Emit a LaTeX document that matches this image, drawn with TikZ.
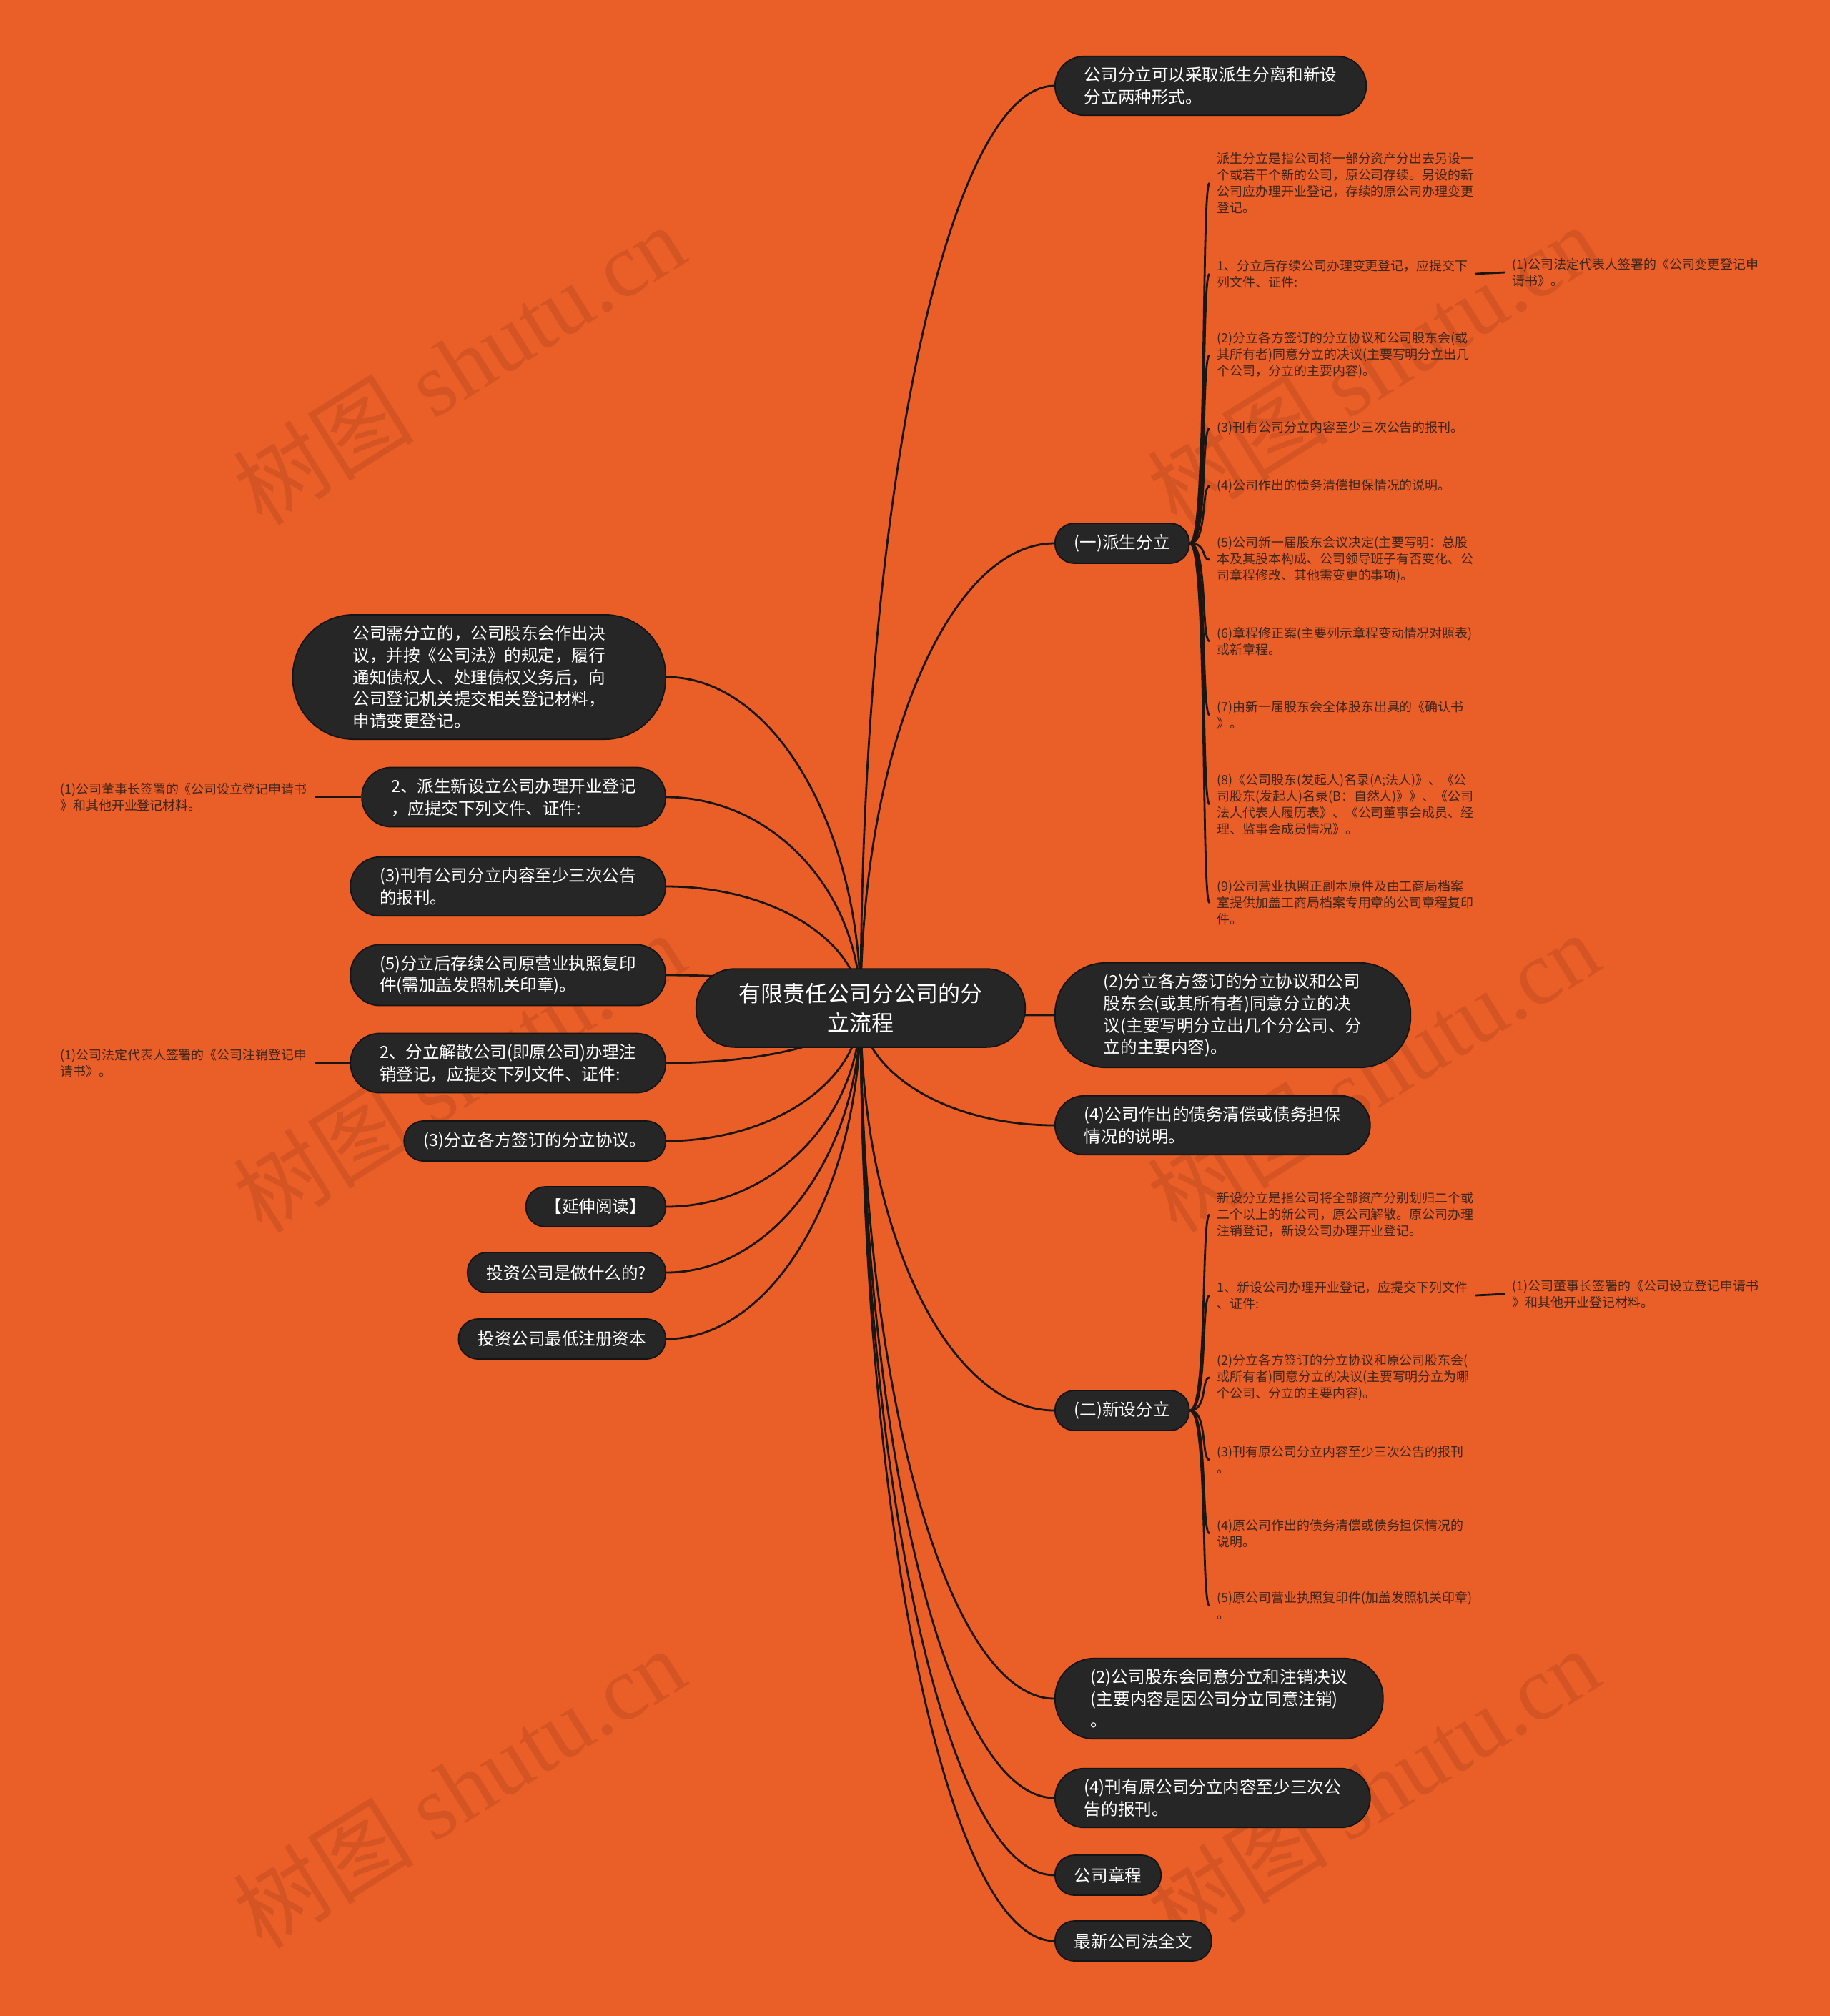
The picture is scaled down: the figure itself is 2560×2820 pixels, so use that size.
\documentclass[tikz,border=0pt]{standalone}
\usepackage{fontspec}
\setmainfont{Noto Sans CJK SC}
\newfontfamily\wmfont{Liberation Serif}
\usetikzlibrary{calc,backgrounds}

\definecolor{bgorange}{RGB}{234,94,39}
\definecolor{topicfill}{RGB}{38,38,38}
\definecolor{topicedge}{RGB}{20,20,20}
\definecolor{linec}{RGB}{28,22,18}
\definecolor{leaftext}{RGB}{62,38,28}

\begin{document}
\begin{tikzpicture}[x=0.01cm, y=-0.01cm,
    topic/.style={rectangle, fill=topicfill, draw=topicedge, line width=0.5pt, text=white,
      align=left, inner ysep=0.15cm, minimum height=0.56cm,
      font=\fontsize{6.7}{8.7}\selectfont},
    % rounding and side padding by number of text lines
    t1/.style={rounded corners=0.27cm, inner xsep=0.27cm},
    t2/.style={rounded corners=0.41cm, inner xsep=0.41cm},
    t3/.style={rounded corners=0.55cm, inner xsep=0.50cm},
    t4/.style={rounded corners=0.71cm, inner xsep=0.68cm},
    t5/.style={rounded corners=0.85cm, inner xsep=0.84cm},
    rtopic/.style={topic, anchor=west},
    ltopic/.style={topic, anchor=east},
    leaf/.style={anchor=west, align=left, inner xsep=0.1cm, inner ysep=0.02cm, text=leaftext,
      font=\fontsize{5.1}{6.55}\selectfont},
    lleaf/.style={leaf, anchor=east},
    link/.style={draw=linec, line width=0.8pt},
    branch/.style={to path={.. controls ($(\tikztostart)!0.55!(\tikztostart |- \tikztotarget)$)
      and ($(\tikztotarget)!0.55!(\tikztostart |- \tikztotarget)$) .. (\tikztotarget)}},
    twig/.style={to path={.. controls ($(\tikztostart)+(25,0)$) and ($(\tikztotarget)+(-12,0)$) .. (\tikztotarget)}},
    wmark/.style={rotate=32, text=black, text opacity=0.09, font=\fontsize{36}{40}\selectfont},
]
% central topic
\node[topic, align=center, rounded corners=0.54cm, inner xsep=0.6cm, inner ysep=0.2cm,
      font=\fontsize{8.8}{11.7}\selectfont]
  (root) at (1204,1410) {有限责任公司分公司的分\\立流程};

% right branches
\node[rtopic, t2] (R1) at (1475,120) {公司分立可以采取派生分离和新设\\分立两种形式。};
\node[rtopic, t1] (R2) at (1475,760) {(一)派生分立};
\node[rtopic, t4] (R3) at (1475,1420) {(2)分立各方签订的分立协议和公司\\股东会(或其所有者)同意分立的决\\议(主要写明分立出几个分公司、分\\立的主要内容)。};
\node[rtopic, t2] (R4) at (1475,1574) {(4)公司作出的债务清偿或债务担保\\情况的说明。};
\node[rtopic, t1] (R5) at (1475,1973) {(二)新设分立};
\node[rtopic, t3] (R6) at (1475,2376) {(2)公司股东会同意分立和注销决议\\(主要内容是因公司分立同意注销)\\。};
\node[rtopic, t2] (R7) at (1475,2515) {(4)刊有原公司分立内容至少三次公\\告的报刊。};
\node[rtopic, t1] (R8) at (1475,2623) {公司章程};
\node[rtopic, t1] (R9) at (1475,2715) {最新公司法全文};

% left branches
\node[ltopic, t5] (L1) at (932,947) {公司需分立的，公司股东会作出决\\议，并按《公司法》的规定，履行\\通知债权人、处理债权义务后，向\\公司登记机关提交相关登记材料，\\申请变更登记。};
\node[ltopic, t2] (L2) at (932,1115) {2、派生新设立公司办理开业登记\\，应提交下列文件、证件:};
\node[ltopic, t2] (L3) at (932,1240) {(3)刊有公司分立内容至少三次公告\\的报刊。};
\node[ltopic, t2] (L4) at (932,1364) {(5)分立后存续公司原营业执照复印\\件(需加盖发照机关印章)。};
\node[ltopic, t2] (L5) at (932,1487) {2、分立解散公司(即原公司)办理注\\销登记，应提交下列文件、证件:};
\node[ltopic, t1] (L6) at (932,1596) {(3)分立各方签订的分立协议。};
\node[ltopic, t1] (L7) at (932,1688) {【延伸阅读】};
\node[ltopic, t1] (L8) at (932,1780) {投资公司是做什么的?};
\node[ltopic, t1] (L9) at (932,1873) {投资公司最低注册资本};

% left leaves
\node[lleaf] (l2x) at (440,1115) {(1)公司董事长签署的《公司设立登记申请书\\》和其他开业登记材料。};
\node[lleaf] (l5x) at (440,1487) {(1)公司法定代表人签署的《公司注销登记申\\请书》。};

% leaves of (一)派生分立
\node[leaf] (d1) at (1692,256) {派生分立是指公司将一部分资产分出去另设一\\个或若干个新的公司，原公司存续。另设的新\\公司应办理开业登记，存续的原公司办理变更\\登记。};
\node[leaf] (d2) at (1692,383) {1、分立后存续公司办理变更登记，应提交下\\列文件、证件:};
\node[leaf] (d3) at (1692,497) {(2)分立各方签订的分立协议和公司股东会(或\\其所有者)同意分立的决议(主要写明分立出几\\个公司，分立的主要内容)。};
\node[leaf] (d4) at (1692,599) {(3)刊有公司分立内容至少三次公告的报刊。};
\node[leaf] (d5) at (1692,680) {(4)公司作出的债务清偿担保情况的说明。};
\node[leaf] (d6) at (1692,783) {(5)公司新一届股东会议决定(主要写明：总股\\本及其股本构成、公司领导班子有否变化、公\\司章程修改、其他需变更的事项)。};
\node[leaf] (d7) at (1692,897) {(6)章程修正案(主要列示章程变动情况对照表)\\或新章程。};
\node[leaf] (d8) at (1692,1000) {(7)由新一届股东会全体股东出具的《确认书\\》。};
\node[leaf] (d9) at (1692,1125) {(8)《公司股东(发起人)名录(A;法人)》、《公\\司股东(发起人)名录(B：自然人)》》、《公司\\法人代表人履历表》、《公司董事会成员、经\\理、监事会成员情况》。};
\node[leaf] (d10) at (1692,1263) {(9)公司营业执照正副本原件及由工商局档案\\室提供加盖工商局档案专用章的公司章程复印\\件。};
\node[leaf] (d2x) at (2105,381) {(1)公司法定代表人签署的《公司变更登记申\\请书》。};

% leaves of (二)新设分立
\node[leaf] (n1) at (1692,1699) {新设分立是指公司将全部资产分别划归二个或\\二个以上的新公司，原公司解散。原公司办理\\注销登记，新设公司办理开业登记。};
\node[leaf] (n2) at (1692,1812) {1、新设公司办理开业登记，应提交下列文件\\、证件:};
\node[leaf] (n3) at (1692,1927) {(2)分立各方签订的分立协议和原公司股东会(\\或所有者)同意分立的决议(主要写明分立为哪\\个公司、分立的主要内容)。};
\node[leaf] (n4) at (1692,2042) {(3)刊有原公司分立内容至少三次公告的报刊\\。};
\node[leaf] (n5) at (1692,2145) {(4)原公司作出的债务清偿或债务担保情况的\\说明。};
\node[leaf] (n6) at (1692,2246) {(5)原公司营业执照复印件(加盖发照机关印章)\\。};
\node[leaf] (n2x) at (2105,1810) {(1)公司董事长签署的《公司设立登记申请书\\》和其他开业登记材料。};

\begin{scope}[on background layer]
  \fill[bgorange] (0,0) rectangle (2560,2820);
  % watermarks
  \foreach \wx/\wy [count=\k] in {642/509,1921/509,642/1499,1921/1499,642/2500,1921/2500}
    \node[wmark] (wm\k) at (\wx,\wy) {树图 {\wmfont shutu.cn}};
  % connectors
  \foreach \i in {1,...,9}
    \draw[link] (root.center) to[branch] (R\i.west);
  \foreach \i in {1,...,9}
    \draw[link] (root.center) to[branch] (L\i.east);
  \foreach \i in {1,...,10}
    \draw[link] (R2.east) to[twig] (d\i.west);
  \foreach \i in {1,...,6}
    \draw[link] (R5.east) to[twig] (n\i.west);
  \draw[link] (L2.west) -- (l2x.east);
  \draw[link] (L5.west) -- (l5x.east);
  \draw[link] (d2.east) -- (d2x.west);
  \draw[link] (n2.east) -- (n2x.west);
\end{scope}
\end{tikzpicture}
\end{document}
